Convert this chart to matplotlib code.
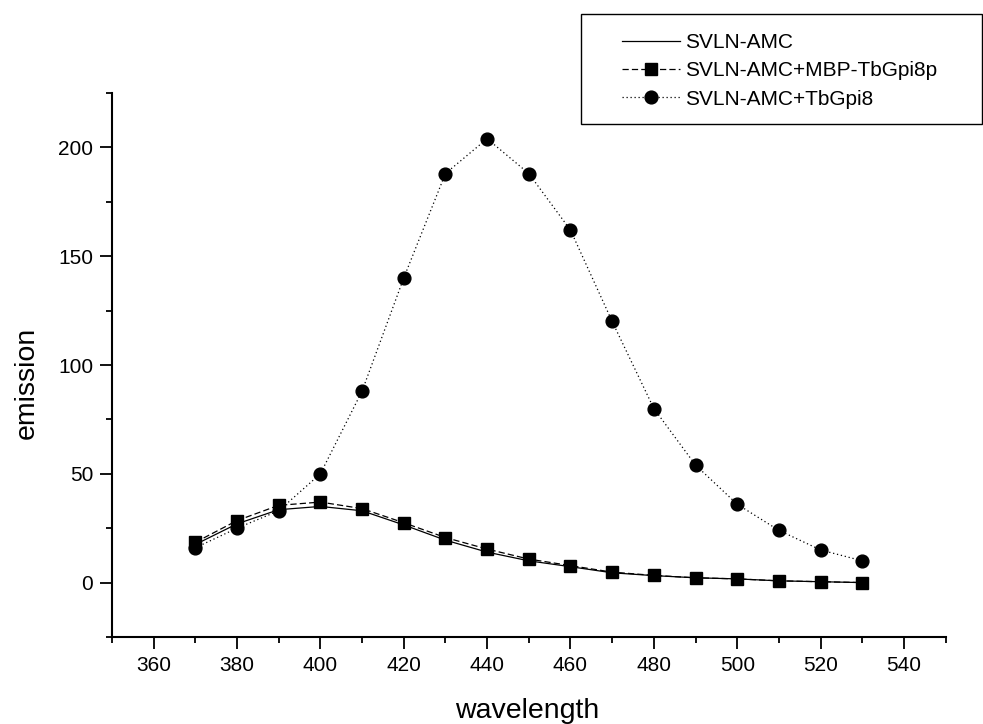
import matplotlib
matplotlib.use("Agg")
import matplotlib.pyplot as plt
from matplotlib.ticker import MultipleLocator
from matplotlib.patches import Rectangle

plt.rcParams["font.family"] = ["Liberation Sans", "DejaVu Sans"]

# --------------------------------------------------
# Emission spectra (wavelength in nm)
# --------------------------------------------------
wavelength = [370, 380, 390, 400, 410, 420, 430, 440, 450,
              460, 470, 480, 490, 500, 510, 520, 530]

svln_amc = [17.5, 27, 33.5, 35, 33, 26.5, 19.5, 14, 10,
            7.3, 4.5, 3.2, 2.2, 1.7, 0.8, 0.4, 0]
svln_mbp = [18.5, 28.5, 35.5, 37, 34, 27.5, 20.7, 15.4, 10.8,
            7.8, 4.8, 3.3, 2.2, 1.7, 0.8, 0.4, 0]
svln_tbgpi8 = [16, 25, 33, 50, 88, 140, 188, 204, 188,
               162, 120, 80, 54, 36, 24, 15, 10]

labels = ["SVLN-AMC", "SVLN-AMC+MBP-TbGpi8p", "SVLN-AMC+TbGpi8"]

fig = plt.figure(figsize=(9.83, 7.24), dpi=100)
ax = fig.add_axes([0.1139, 0.1202, 0.8481, 0.7513])

ax.plot(wavelength, svln_amc, color="black", lw=0.9, label=labels[0])
ax.plot(wavelength, svln_tbgpi8, color="black", lw=0.9, dashes=(1, 2.2),
        marker="o", markersize=9.2, label=labels[2])
ax.plot(wavelength, svln_mbp, color="black", lw=0.9, dashes=(5, 2.5),
        marker="s", markersize=9.2, label=labels[1])

ax.set_xlim(350, 550)
ax.set_ylim(-25, 225)
ax.xaxis.set_major_locator(MultipleLocator(20))
ax.xaxis.set_minor_locator(MultipleLocator(10))
ax.yaxis.set_major_locator(MultipleLocator(50))
ax.yaxis.set_minor_locator(MultipleLocator(25))

for side in ("top", "right"):
    ax.spines[side].set_visible(False)
for side in ("left", "bottom"):
    ax.spines[side].set_linewidth(1.5)

ax.tick_params(which="major", direction="out", length=8.5, width=1.3,
               labelsize=15, pad=5)
ax.tick_params(which="minor", direction="out", length=4.3, width=1.3)

ax.set_xlabel("wavelength", fontsize=20.5)
ax.set_ylabel("emission", fontsize=20.5)
ax.xaxis.set_label_coords(0.498, -0.112)
ax.yaxis.set_label_coords(-0.087, 0.468)

# legend box in the upper right corner
fig.patches.append(Rectangle((581 / 983, 1 - 124 / 724),
                             (982 - 581) / 983, (124 - 14) / 724,
                             transform=fig.transFigure, fill=False,
                             edgecolor="black", linewidth=1.0))
handles, names = ax.get_legend_handles_labels()
order = [0, 2, 1]
fig.legend([handles[i] for i in order], [names[i] for i in order],
           loc="upper left", bbox_to_anchor=(621.7 / 983, 1 - 33 / 724),
           frameon=False, fontsize=15, handlelength=2.8,
           handletextpad=0.25, labelspacing=0.45, borderpad=0,
           borderaxespad=0)

fig.savefig("out.png", dpi=100)
